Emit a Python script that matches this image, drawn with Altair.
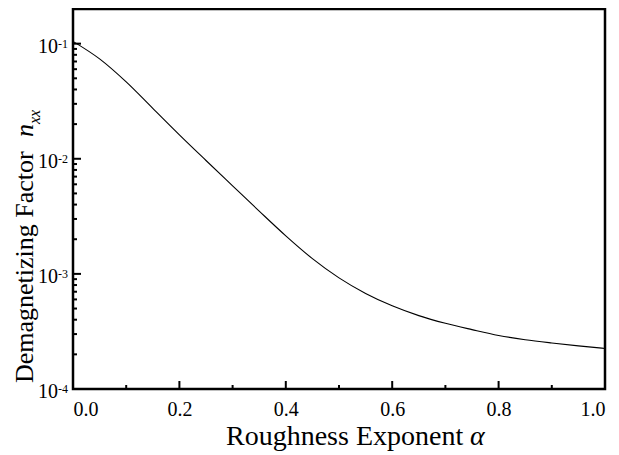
import altair as alt
import pandas as pd

alpha = [0.0, 0.05, 0.1, 0.15, 0.2, 0.25, 0.3, 0.35, 0.4, 0.45, 0.5,
         0.55, 0.6, 0.65, 0.7, 0.75, 0.8, 0.85, 0.9, 0.95, 1.0]
nxx = [0.1047, 0.0737, 0.0465, 0.02739, 0.01613, 0.00966, 0.00582, 0.00351,
       0.00214, 0.001357, 0.000923, 0.000676, 0.000528, 0.000434, 0.000372,
       0.000328, 0.000292, 0.000268, 0.000251, 0.000237, 0.000225]

x_major = [0.0, 0.2, 0.4, 0.6, 0.8, 1.0]
x_minor = [0.1, 0.3, 0.5, 0.7, 0.9]
y_major = [1e-4, 1e-3, 1e-2, 1e-1]
y_major_exp = ["-4", "-3", "-2", "-1"]
y_minor = [m * 10.0 ** e for e in (-4, -3, -2, -1) for m in range(2, 10) if m * 10.0 ** e < 0.2]

W, H = 532, 380
FONT = "Liberation Serif"

xs = alt.Scale(domain=[0, 1], nice=False)
ys = alt.Scale(type="log", domain=[1e-4, 0.2], nice=False)

df = pd.DataFrame({"a": alpha, "n": nxx})

line = alt.Chart(df).mark_line(color="black", strokeWidth=1.1, interpolate="monotone").encode(
    x=alt.X("a:Q", scale=xs, axis=alt.Axis(values=x_major, ticks=False, domain=False, grid=False,
                                           format=".1f", labelFont=FONT, labelFontSize=20,
                                           labelColor="black", labelPadding=10, title=None)),
    y=alt.Y("n:Q", scale=ys, axis=None),
)

def xticks(vals, length):
    return alt.Chart(pd.DataFrame({"v": vals})).mark_rule(color="black", strokeWidth=2).encode(
        x=alt.X("v:Q", scale=xs), y=alt.value(H), y2=alt.value(H - length))

def yticks(vals, length):
    return alt.Chart(pd.DataFrame({"v": vals})).mark_rule(color="black", strokeWidth=2).encode(
        y=alt.Y("v:Q", scale=ys), x=alt.value(0), x2=alt.value(length))

ylab_df = pd.DataFrame({"v": y_major, "e": y_major_exp})
ylab10 = alt.Chart(ylab_df).mark_text(text="10", font=FONT, fontSize=20, align="right",
                                      baseline="alphabetic", dy=9, color="black").encode(
    y=alt.Y("v:Q", scale=ys), x=alt.value(-15))
ylabexp = alt.Chart(ylab_df).mark_text(font=FONT, fontSize=12, align="left",
                                       baseline="alphabetic", dy=4, color="black").encode(
    y=alt.Y("v:Q", scale=ys), x=alt.value(-15), text="e:N")

def label(txt, x, y, size, angle=0, style="normal", align="left"):
    return alt.Chart(pd.DataFrame({"t": [txt]})).mark_text(
        font=FONT, fontSize=size, fontStyle=style, align=align, baseline="alphabetic",
        angle=angle, color="black").encode(text="t:N", x=alt.value(x), y=alt.value(y))

xt1 = label("Roughness Exponent", 153, 436, 28)
xt2 = label("α", 397, 436, 28, style="italic")
yt1 = label("Demagnetizing Factor", -40, 374, 26, angle=270)
yt2 = label("n", -40, 128, 26, angle=270, style="italic")
yt3 = label("xx", -33, 115, 16, angle=270, style="italic")

chart = alt.layer(
    line, xticks(x_major, 8), xticks(x_minor, 4), yticks(y_major, 8), yticks(y_minor, 4),
    ylab10, ylabexp, xt1, xt2, yt1, yt2, yt3,
).properties(
    width=W, height=H, autosize=alt.AutoSizeParams(type="none"),
    padding={"left": 65, "top": 1, "right": 6, "bottom": 64},
    background="white",
).configure_view(stroke="black", strokeWidth=2.5)

chart.save("out.html", embed_options={"renderer": "svg", "actions": False})
